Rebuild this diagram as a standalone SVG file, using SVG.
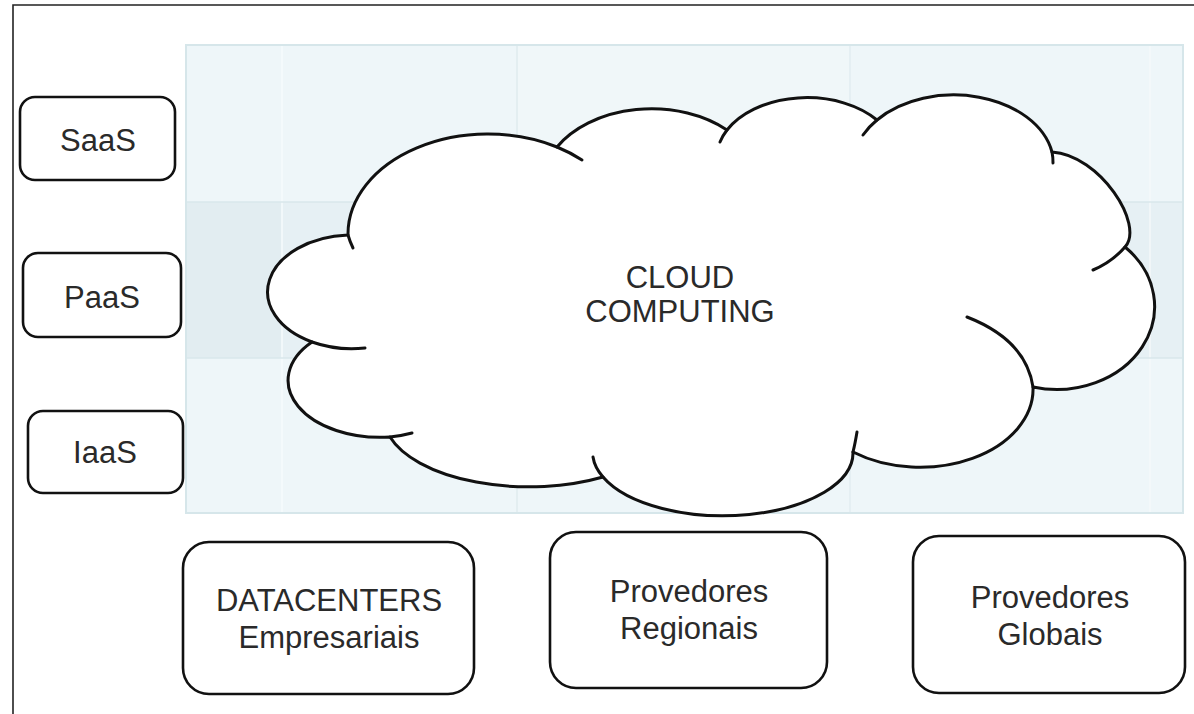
<svg xmlns="http://www.w3.org/2000/svg" width="1194" height="714" viewBox="0 0 1194 714">
  <style>
    .box { fill: #ffffff; stroke: #111111; stroke-width: 2.6; }
    .lbl { font-family: "Liberation Sans", Arial, sans-serif; font-size: 31px; fill: #2a2a2a; text-anchor: middle; }
    .cloud { fill: #ffffff; stroke: #111111; stroke-width: 3; stroke-linejoin: round; }
    .tail { fill: none; stroke: #111111; stroke-width: 3; stroke-linecap: round; }
    .gridline { stroke-width: 1.5; fill: none; }
  </style>
  <rect x="0" y="0" width="1194" height="714" fill="#ffffff"/>
  <path d="M13,714 V5 H1194" fill="none" stroke="#222222" stroke-width="1.6"/>

  <g id="background">
    <rect x="186" y="45" width="997" height="468" fill="#eef6f9"/>
    <rect x="186" y="202" width="997" height="156" fill="#e6f0f4"/>
    <rect x="186" y="202" width="96" height="156" fill="#e2edf1"/>
    <rect x="517" y="45" width="333" height="157" fill="#f0f7f9"/>
    <line class="gridline" x1="282" y1="45" x2="282" y2="513" stroke="#f6fbfc"/>
    <line class="gridline" x1="517" y1="45" x2="517" y2="513" stroke="#dfebee"/>
    <line class="gridline" x1="850" y1="45" x2="850" y2="513" stroke="#e2edf0"/>
    <line class="gridline" x1="1150" y1="45" x2="1150" y2="513" stroke="#f4f9fa"/>
    <line class="gridline" x1="186" y1="202" x2="1183" y2="202" stroke="#d8e7eb"/>
    <line class="gridline" x1="186" y1="358" x2="1183" y2="358" stroke="#d8e7eb"/>
    <rect x="186" y="45" width="997" height="468" fill="none" stroke="#d6e6ea" stroke-width="2"/>
  </g>

  <g id="cloud">
    <path class="cloud" d="M348,235 A140,100 0 0 1 557,147 A110,78 0 0 1 727,130 A90,60 0 0 1 877,120 A100,70 0 0 1 1052,152 C1100,155 1145,225 1125,247 A98,83 0 0 1 1033,387 A113,78 0 0 1 853,452 A130,63 0 0 1 603,477 A145,70 0 0 1 390,437 A92,57 0 0 1 312,342 A85,57 0 0 1 348,235 Z"/>
    <path class="tail" d="M353,248 A140,100 0 0 1 348,235"/>
    <path class="tail" d="M557,147 A140,100 0 0 1 582,160"/>
    <path class="tail" d="M720,142 A90,60 0 0 1 727,130"/>
    <path class="tail" d="M863,135 A100,70 0 0 1 877,120"/>
    <path class="tail" d="M1052,152 A100,70 0 0 1 1053,163"/>
    <path class="tail" d="M1125,247 Q1112,262 1093,270"/>
    <path class="tail" d="M967,317 Q1026,340 1033,387"/>
    <path class="tail" d="M857,432 Q855,444 853,452"/>
    <path class="tail" d="M603,477 A130,63 0 0 1 593,457"/>
    <path class="tail" d="M412,433 A92,57 0 0 1 390,437"/>
    <path class="tail" d="M365,348 A85,57 0 0 1 312,342"/>
    <text class="lbl" x="680" y="288">CLOUD</text>
    <text class="lbl" x="680" y="322">COMPUTING</text>
  </g>

  <g id="saas">
    <rect class="box" x="20" y="97" width="155" height="83" rx="15"/>
    <text class="lbl" x="98" y="151">SaaS</text>
  </g>
  <g id="paas">
    <rect class="box" x="23" y="253" width="158" height="84" rx="15"/>
    <text class="lbl" x="102" y="308">PaaS</text>
  </g>
  <g id="iaas">
    <rect class="box" x="28" y="411" width="155" height="82" rx="15"/>
    <text class="lbl" x="105" y="463">IaaS</text>
  </g>

  <g id="datacenters">
    <rect class="box" x="183" y="542" width="291" height="152" rx="26"/>
    <text class="lbl" x="329" y="611">DATACENTERS</text>
    <text class="lbl" x="329" y="648">Empresariais</text>
  </g>
  <g id="regionais">
    <rect class="box" x="550" y="532" width="277" height="156" rx="26"/>
    <text class="lbl" x="689" y="602">Provedores</text>
    <text class="lbl" x="689" y="639">Regionais</text>
  </g>
  <g id="globais">
    <rect class="box" x="913" y="536" width="272" height="157" rx="26"/>
    <text class="lbl" x="1050" y="608">Provedores</text>
    <text class="lbl" x="1050" y="645">Globais</text>
  </g>

  <g id="connectors"/>
</svg>
